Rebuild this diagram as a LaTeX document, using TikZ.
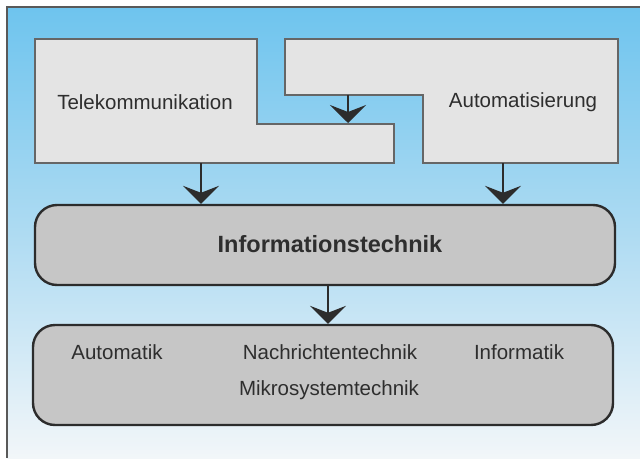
\documentclass[tikz,border=0pt]{standalone}
\usepackage{fontspec}
\setmainfont{Liberation Sans}
\usetikzlibrary{arrows.meta}
\definecolor{skytop}{HTML}{6EC4EE}
\definecolor{skymid}{HTML}{AEDBF2}
\definecolor{skybot}{HTML}{F2F6F9}
\definecolor{lightbox}{HTML}{E4E4E4}
\definecolor{lightedge}{HTML}{666666}
\definecolor{darkbox}{HTML}{C6C6C6}
\definecolor{darkedge}{HTML}{2C2C2C}
\definecolor{txt}{HTML}{2E2E2E}
\tikzset{
  lbox/.style={fill=lightbox,draw=lightedge,line width=2.4pt,line join=miter},
  rbox/.style={fill=darkbox,draw=darkedge,line width=2.4pt,rounded corners=22pt,
    minimum width=580pt,inner sep=0pt},
  lbl/.style={text=txt,font=\fontsize{20.5}{24}\selectfont,inner sep=0pt},
  flow/.style={draw=darkedge,fill=darkedge,line width=1.4pt,
    -{Stealth[length=18pt,width=36pt,inset=7pt]}},
}
\begin{document}
\begin{tikzpicture}[x=1pt,y=-1pt]
\useasboundingbox (0,0) rectangle (640,458);
% background
\fill[white] (0,0) rectangle (640,458);
\shade[top color=skytop,bottom color=skybot,middle color=skymid] (7,7) rectangle (640,458);
\draw[draw=gray!70!black,line width=1.2pt] (7,458) -- (7,7) -- (640,7);
% upper boxes
\draw[lbox] (35,39) -- (257,39) -- (257,124) -- (394,124) -- (394,163) -- (35,163) -- cycle;
\draw[lbox] (285,39) -- (618,39) -- (618,163) -- (423,163) -- (423,95) -- (285,95) -- cycle;
\node[lbl] (tele) at (145,102) {Telekommunikation};
\node[lbl] (auto) at (523,102) {Automatisierung};
\coordinate (teleout) at (201,163);
\coordinate (autoout) at (503,163);
\coordinate (autoin) at (348,95);
\coordinate (telein) at (348,123);
% rounded boxes
\node[rbox,minimum height=80pt] (it) at (325,245) {};
\node[lbl,font=\fontsize{23.5}{28}\selectfont\bfseries] (itlbl) at (330,244) {Informationstechnik};
\node[rbox,minimum height=100pt] (sub) at (323,375) {};
\node[lbl] (s1) at (117,352) {Automatik};
\node[lbl] (s2) at (330,352) {Nachrichtentechnik};
\node[lbl] (s3) at (519,352) {Informatik};
\node[lbl] (s4) at (329,390) {Mikrosystemtechnik};
% arrows
\draw[flow] (autoin) -- (telein);
\draw[flow] (teleout) -- (teleout |- it.north);
\draw[flow] (autoout) -- (autoout |- it.north);
\draw[flow] (it.south -| 328,0) -- (sub.north -| 328,0);
\end{tikzpicture}
\end{document}
